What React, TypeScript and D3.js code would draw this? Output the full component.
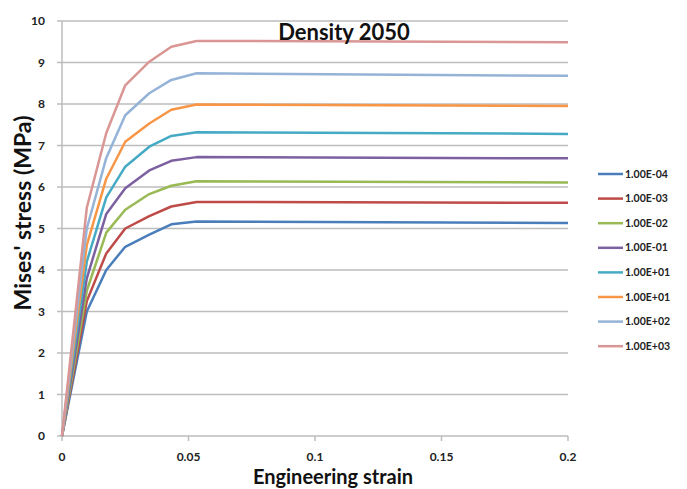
import React from "react";
import * as d3 from "d3";

const strain = [0, 0.0098, 0.0175, 0.025, 0.0345, 0.0432, 0.0532, 0.2];
const seriesNames = ["1.00E-04", "1.00E-03", "1.00E-02", "1.00E-01", "1.00E+01", "1.00E+01", "1.00E+02", "1.00E+03"];
const s1 = [0, 3.0, 4.0, 4.56, 4.85, 5.1, 5.17, 5.13];
const s2 = [0, 3.25, 4.4, 5.0, 5.3, 5.53, 5.64, 5.62];
const s3 = [0, 3.5, 4.9, 5.45, 5.83, 6.03, 6.14, 6.11];
const s4 = [0, 3.8, 5.35, 5.97, 6.4, 6.63, 6.72, 6.69];
const s5 = [0, 4.2, 5.75, 6.49, 6.97, 7.23, 7.32, 7.28];
const s6 = [0, 4.6, 6.2, 7.09, 7.53, 7.86, 7.99, 7.95];
const s7 = [0, 5.0, 6.7, 7.73, 8.26, 8.58, 8.74, 8.68];
const s8 = [0, 5.5, 7.3, 8.45, 9.02, 9.38, 9.52, 9.49];
const seriesValues = [s1, s2, s3, s4, s5, s6, s7, s8];
const colors = ["#4A7EBB", "#BE4B48", "#98B954", "#7D60A0", "#46AAC5", "#F79646", "#95B3D7", "#D99694"];
const yTicks = [0, 1, 2, 3, 4, 5, 6, 7, 8, 9, 10];
const xTicks = [0, 0.05, 0.1, 0.15, 0.2];

const W = 687, H = 489;
const m = { left: 62, right: 119, top: 21, bottom: 53 };
const font = "Lato, 'Open Sans', sans-serif";

export default function App() {
  const x = d3.scaleLinear().domain([0, 0.2]).range([m.left, W - m.right]);
  const y = d3.scaleLinear().domain([0, 10]).range([H - m.bottom, m.top]);
  const line = d3.line<[number, number]>().x(d => x(d[0])).y(d => y(d[1]));
  return (
    <svg width={W} height={H} style={{ position: "fixed", left: 0, top: 0, background: "#fff" }} fontFamily={font}>
      <rect width={W} height={H} fill="#fff" />
      {yTicks.map(t => (
        <g key={t}>
          <line x1={x(0) - 5} x2={x(0.2)} y1={y(t)} y2={y(t)} stroke="#bdbdbd" strokeWidth={1.5} />
          <text x={x(0) - 17} y={y(t)} dy="0.35em" textAnchor="end" fontSize={12} fontWeight="bold" fill="#222">{t}</text>
        </g>
      ))}
      <line x1={x(0)} x2={x(0)} y1={y(0)} y2={y(10)} stroke="#bdbdbd" strokeWidth={1.5} />
      {xTicks.map(t => (
        <g key={t}>
          <line x1={x(t)} x2={x(t)} y1={y(0)} y2={y(0) + 5} stroke="#bdbdbd" strokeWidth={1.5} />
          <text x={x(t)} y={y(0) + 25} textAnchor="middle" fontSize={12} fontWeight="bold" fill="#222">{t}</text>
        </g>
      ))}
      {seriesValues.map((vals, i) => (
        <path key={i} d={line(strain.map((s, j) => [s, vals[j]]) as [number, number][]) || ""} fill="none" stroke={colors[i]} strokeWidth={2.5} strokeLinejoin="round" />
      ))}
      <text x={344} y={40} textAnchor="middle" fontSize={22} fontWeight="bold" fill="#111">Density 2050</text>
      <text x={333} y={484} textAnchor="middle" fontSize={20} fontWeight="bold" fill="#111">Engineering strain</text>
      <text transform={`translate(31,213) rotate(-90)`} textAnchor="middle" fontSize={23} fontWeight="bold" fill="#111">Mises' stress (MPa)</text>
      {seriesNames.map((n, i) => (
        <g key={i} transform={`translate(598,${174 + i * 24.6})`}>
          <line x1={0} x2={25} y1={0} y2={0} stroke={colors[i]} strokeWidth={2.5} />
          <text x={27} y={0} dy="0.35em" fontSize={10.5} fontWeight="bold" fill="#222">{n}</text>
        </g>
      ))}
    </svg>
  );
}
